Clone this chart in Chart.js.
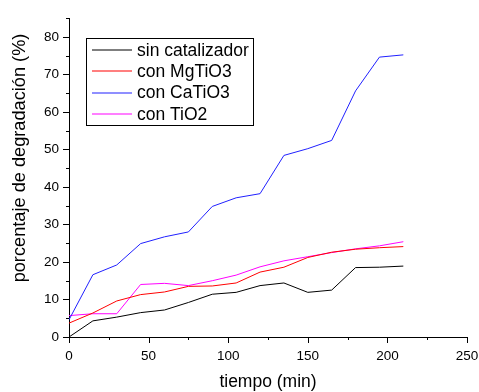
<!DOCTYPE html>
<html>
<head>
<meta charset="utf-8">
<script src="https://cdn.jsdelivr.net/npm/chart.js@4/dist/chart.umd.min.js"></script>
<style>
  html, body { margin: 0; padding: 0; background: #fff; }
  #wrap { width: 479px; height: 392px; }
</style>
</head>
<body>
<div id="wrap"><canvas id="c" width="479" height="392"></canvas></div>
<script>
// ---- data ----
const tiempo = [0, 15, 30, 45, 60, 75, 90, 105, 120, 135, 150, 165, 180, 195, 210];
const sinCatalizador = [0, 4.3, 5.3, 6.5, 7.2, 9.2, 11.4, 11.9, 13.7, 14.4, 11.9, 12.5, 18.5, 18.6, 18.9];
const conMgTiO3 = [3.7, 6.4, 9.6, 11.3, 12.0, 13.5, 13.6, 14.4, 17.3, 18.6, 21.2, 22.6, 23.4, 23.8, 24.1];
const conCaTiO3 = [4.6, 16.6, 19.2, 24.9, 26.7, 28.0, 34.8, 37.1, 38.2, 48.4, 50.2, 52.4, 65.6, 74.6, 75.2];
const conTiO2 = [5.7, 6.2, 6.2, 14.0, 14.3, 13.7, 15.0, 16.5, 18.7, 20.3, 21.4, 22.5, 23.5, 24.3, 25.4];
const seriesNames = ['sin catalizador', 'con MgTiO3', 'con CaTiO3', 'con TiO2'];
const xTitle = 'tiempo (min)';
const yTitle = 'porcentaje de degradación (%)';
const xMin = 0, xMax = 250, xMajor = 50, xMinor = 25;
const yMin = 0, yMax = 85, yMajor = 10, yMinor = 5;

const FONT = '"Liberation Sans", Arial, Helvetica, sans-serif';
const colors = ['#000000', '#ff0000', '#2020ff', '#ff00ff'];
const seriesValues = [sinCatalizador, conMgTiO3, conCaTiO3, conTiO2];

function toPoints(vals) { return tiempo.map((t, i) => ({ x: t, y: vals[i] })); }

const datasets = seriesValues.map((vals, i) => ({
  label: seriesNames[i],
  data: toPoints(vals),
  borderColor: colors[i],
  backgroundColor: colors[i],
  borderWidth: 1,
  pointRadius: 0,
  tension: 0,
  fill: false
}));

const decorPlugin = {
  id: 'decor',
  afterDraw(chart) {
    const ctx = chart.ctx;
    const xs = chart.scales.x, ys = chart.scales.y;
    const ca = chart.chartArea;
    ctx.save();
    ctx.strokeStyle = '#000';
    ctx.lineWidth = 1;
    // y ticks (outward, left)
    for (let v = yMin; v <= yMax + 1e-9; v += yMinor) {
      const p = Math.round(ys.getPixelForValue(v)) + 0.5;
      const len = (Math.abs(v % yMajor) < 1e-9) ? 6 : 3;
      ctx.beginPath();
      ctx.moveTo(ca.left, p);
      ctx.lineTo(ca.left - len, p);
      ctx.stroke();
    }
    // x ticks (outward, down)
    for (let v = xMin; v <= xMax + 1e-9; v += xMinor) {
      const p = Math.round(xs.getPixelForValue(v)) + 0.5;
      const len = (Math.abs(v % xMajor) < 1e-9) ? 6 : 3;
      ctx.beginPath();
      ctx.moveTo(p, ca.bottom);
      ctx.lineTo(p, ca.bottom + len);
      ctx.stroke();
    }
    // axis titles
    ctx.fillStyle = '#000';
    ctx.font = '17.5px ' + FONT;
    ctx.textAlign = 'center';
    ctx.textBaseline = 'alphabetic';
    ctx.fillText(xTitle, (ca.left + ca.right) / 2, 387);
    ctx.save();
    ctx.translate(20, 158);
    ctx.rotate(-Math.PI / 2);
    ctx.font = '18.2px ' + FONT;
    ctx.textBaseline = 'middle';
    ctx.fillText(yTitle, 0, 0);
    ctx.restore();

    // legend box
    const bx = 86, by = 38, bw = 167, bh = 87;
    ctx.strokeStyle = '#000';
    ctx.strokeRect(bx + 0.5, by + 0.5, bw, bh);
    ctx.font = '17.5px ' + FONT;
    ctx.textAlign = 'left';
    ctx.textBaseline = 'middle';
    chart.data.datasets.forEach((ds, i) => {
      const cy = 50 + i * 21.3;
      ctx.strokeStyle = colors[i];
      ctx.lineWidth = 1.2;
      ctx.beginPath();
      ctx.moveTo(92, Math.round(cy));
      ctx.lineTo(132, Math.round(cy));
      ctx.stroke();
      ctx.fillStyle = '#000';
      ctx.fillText(ds.label, 137, cy + 1);
    });
    ctx.restore();
  }
};

new Chart(document.getElementById('c'), {
  type: 'line',
  data: { datasets },
  options: {
    responsive: false,
    animation: false,
    devicePixelRatio: 1,
    layout: { padding: { top: 11, right: 0, left: 0, bottom: 0 } },
    plugins: { legend: { display: false }, tooltip: { enabled: false } },
    scales: {
      x: {
        type: 'linear',
        min: xMin, max: xMax,
        grid: { display: true, drawOnChartArea: false, drawTicks: false },
        border: { display: true, color: '#000', width: 1 },
        ticks: {
          stepSize: xMajor,
          autoSkip: false,
          maxRotation: 0,
          padding: 11,
          color: '#000',
          font: { family: FONT, size: 13.5 },
          callback: (v) => (v % xMajor === 0 ? String(v) : '')
        },
        afterFit(s) { s.height = 55; s.paddingRight = 12; s.paddingLeft = 0; }
      },
      y: {
        type: 'linear',
        min: yMin, max: yMax,
        grid: { display: true, drawOnChartArea: false, drawTicks: false },
        border: { display: true, color: '#000', width: 1 },
        ticks: {
          stepSize: yMajor,
          autoSkip: false,
          padding: 10,
          color: '#000',
          font: { family: FONT, size: 13.5 },
          callback: (v) => (v % yMajor === 0 ? String(v) : '')
        },
        afterFit(s) { s.width = 69; }
      }
    }
  },
  plugins: [decorPlugin]
});
</script>
</body>
</html>
